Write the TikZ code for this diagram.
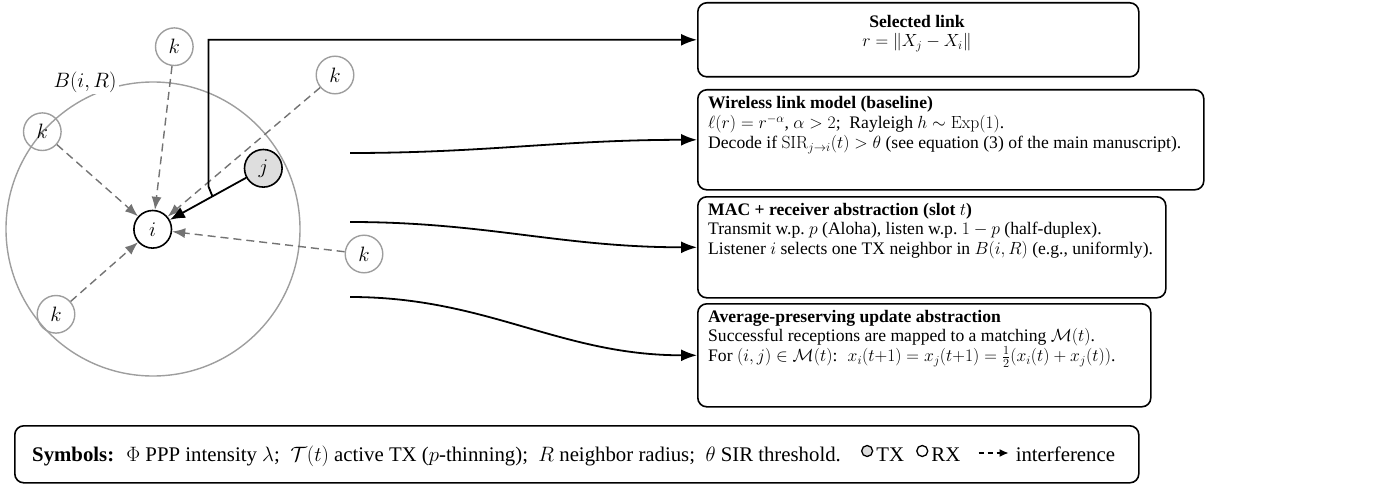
\RequirePackage{fix-cm}
\documentclass[tikz,border=0pt]{standalone}
\usepackage[no-math]{fontspec}
\setmainfont{Liberation Serif}
\usepackage{amsmath,amssymb}
\usetikzlibrary{arrows.meta,calc,fit}
\newcommand\bodyfont{\fontsize{17.6}{19.5}\selectfont}
\newcommand\bigfont{\fontsize{20.8}{23}\selectfont}
\begin{document}
\begin{tikzpicture}[x=1pt,y=-1pt,
  box/.style={draw, line width=1.6pt, rounded corners=9pt, inner sep=0pt, anchor=north west},
  txt/.style={inner sep=0pt, align=left, font=\bodyfont},
  nodek/.style={circle, draw=black!38, line width=1.4pt, minimum size=37.6pt, inner sep=0pt, font=\bigfont},
  nodei/.style={circle, draw=black, fill=white, line width=1.6pt, minimum size=37.6pt, inner sep=0pt, font=\bigfont},
  nodej/.style={nodei, fill=black!13},
  intf/.style={draw=black!55, dash pattern=on 8pt off 5pt, line width=1.4pt, -{Latex[length=13pt,width=10pt]}},
  link/.style={draw=black, line width=1.8pt, -{Latex[length=15pt,width=12pt]}},
  conn/.style={draw=black, line width=1.8pt, -{Latex[length=16pt,width=12pt]}},
  legc/.style={circle, draw=black, line width=1.3pt, minimum size=11pt, inner sep=0pt},
]
\useasboundingbox (0,0) rectangle (1391,484);
% neighbourhood
\draw[black!38, line width=1.4pt] (153,229) circle[radius=147];
\node[fill=white, inner sep=2pt, font=\bigfont] (blabel) at (85,82) {$B(i,R)$};
\node[nodei] (i) at (152.7,229.3) {$i$};
\node[nodej] (j) at (263.3,168.3) {$j$};
\node[nodek] (k1) at (174.3,46.7) {$k$};
\node[nodek] (k2) at (335,75) {$k$};
\node[nodek] (k3) at (42.3,131.7) {$k$};
\node[nodek] (k4) at (364,254) {$k$};
\node[nodek] (k5) at (56,314.3) {$k$};
\foreach \n in {k1,k2,k3,k4,k5} \draw[intf] (\n) -- (i);
\draw[link] (j) -- (i);
% boxes
\node[box, minimum width=441, minimum height=74] (b1) at (697,2) {};
\node[txt, align=center, anchor=north] (t1) at (917,15) {\textbf{Selected link}\\ $r=\|X_j-X_i\|$};
\node[box, minimum width=506, minimum height=100] (b2) at (697,89) {};
\node[txt, anchor=north west] (t2) at (708,96) {\textbf{Wireless link model (baseline)}\\[1pt]
 $\ell(r)=r^{-\alpha}$, $\alpha>2$;~ Rayleigh $h\sim\mathrm{Exp}(1)$.\\
 Decode if $\mathrm{SIR}_{j\to i}(t)>\theta$ (see equation (3) of the main manuscript).};
\node[box, minimum width=468, minimum height=101] (b3) at (697,196) {};
\node[txt, anchor=north west] (t3) at (708,203) {\textbf{MAC + receiver abstraction (slot $t$)}\\
 Transmit w.p.\ $p$ (Aloha), listen w.p.\ $1-p$ (half-duplex).\\
 Listener $i$ selects one TX neighbor in $B(i,R)$ (e.g., uniformly).};
\node[box, minimum width=453, minimum height=103] (b4) at (697,303) {};
\node[txt, anchor=north west] (t4) at (708,310) {\textbf{Average-preserving update abstraction}\\
 Successful receptions are mapped to a matching $\mathcal{M}(t)$.\\
 For $(i,j)\in\mathcal{M}(t)$:~ $x_i(t{+}1)=x_j(t{+}1)=\frac{1}{2}(x_i(t)+x_j(t))$.};
% connectors
\coordinate (jn) at ($(j)!0.46!(i)$);
\coordinate (bend) at ($(jn)+(-4,-10)$);
\draw[conn] (jn) -- (bend) |- (b1.west);
\coordinate (s2) at (350,153);
\coordinate (s3) at (350,222);
\coordinate (s4) at (350,297);
\draw[conn] (s2) to[out=0,in=180] (b2.west);
\draw[conn] (s3) to[out=0,in=180] (b3.west);
\draw[conn] (s4) to[out=0,in=180] (b4.west);
% legend
\node[box, minimum width=1124, minimum height=57] (b5) at (14,425) {};
\node[txt, font=\bigfont, anchor=base west] (lg) at (32,461) {\textbf{Symbols:}~ $\Phi$ PPP intensity $\lambda$;~ $\mathcal{T}(t)$ active TX ($p$-thinning);~ $R$ neighbor radius;~ $\theta$ SIR threshold.};
\node[legc, fill=black!13] (ltx) at ($(lg.base east)+(26,-10)$) {};
\node[txt, font=\bigfont, anchor=base west] (ltxt) at ($(lg.base east)+(35,0)$) {TX};
\node[legc, fill=white] (lrx) at ($(ltxt.base east)+(18,-10)$) {};
\node[txt, font=\bigfont, anchor=base west] (lrxt) at ($(ltxt.base east)+(27,0)$) {RX};
\coordinate (la) at ($(lrxt.base east)+(18,-8)$);
\coordinate (lb) at ($(la)+(30,0)$);
\draw[black, line width=1.4pt, dash pattern=on 5pt off 4pt, -{Latex[length=9pt,width=8pt]}] (la) -- (lb);
\node[txt, font=\bigfont, anchor=base west] (lint) at ($(lb)+(7,8)$) {interference};
\end{tikzpicture}
\end{document}
